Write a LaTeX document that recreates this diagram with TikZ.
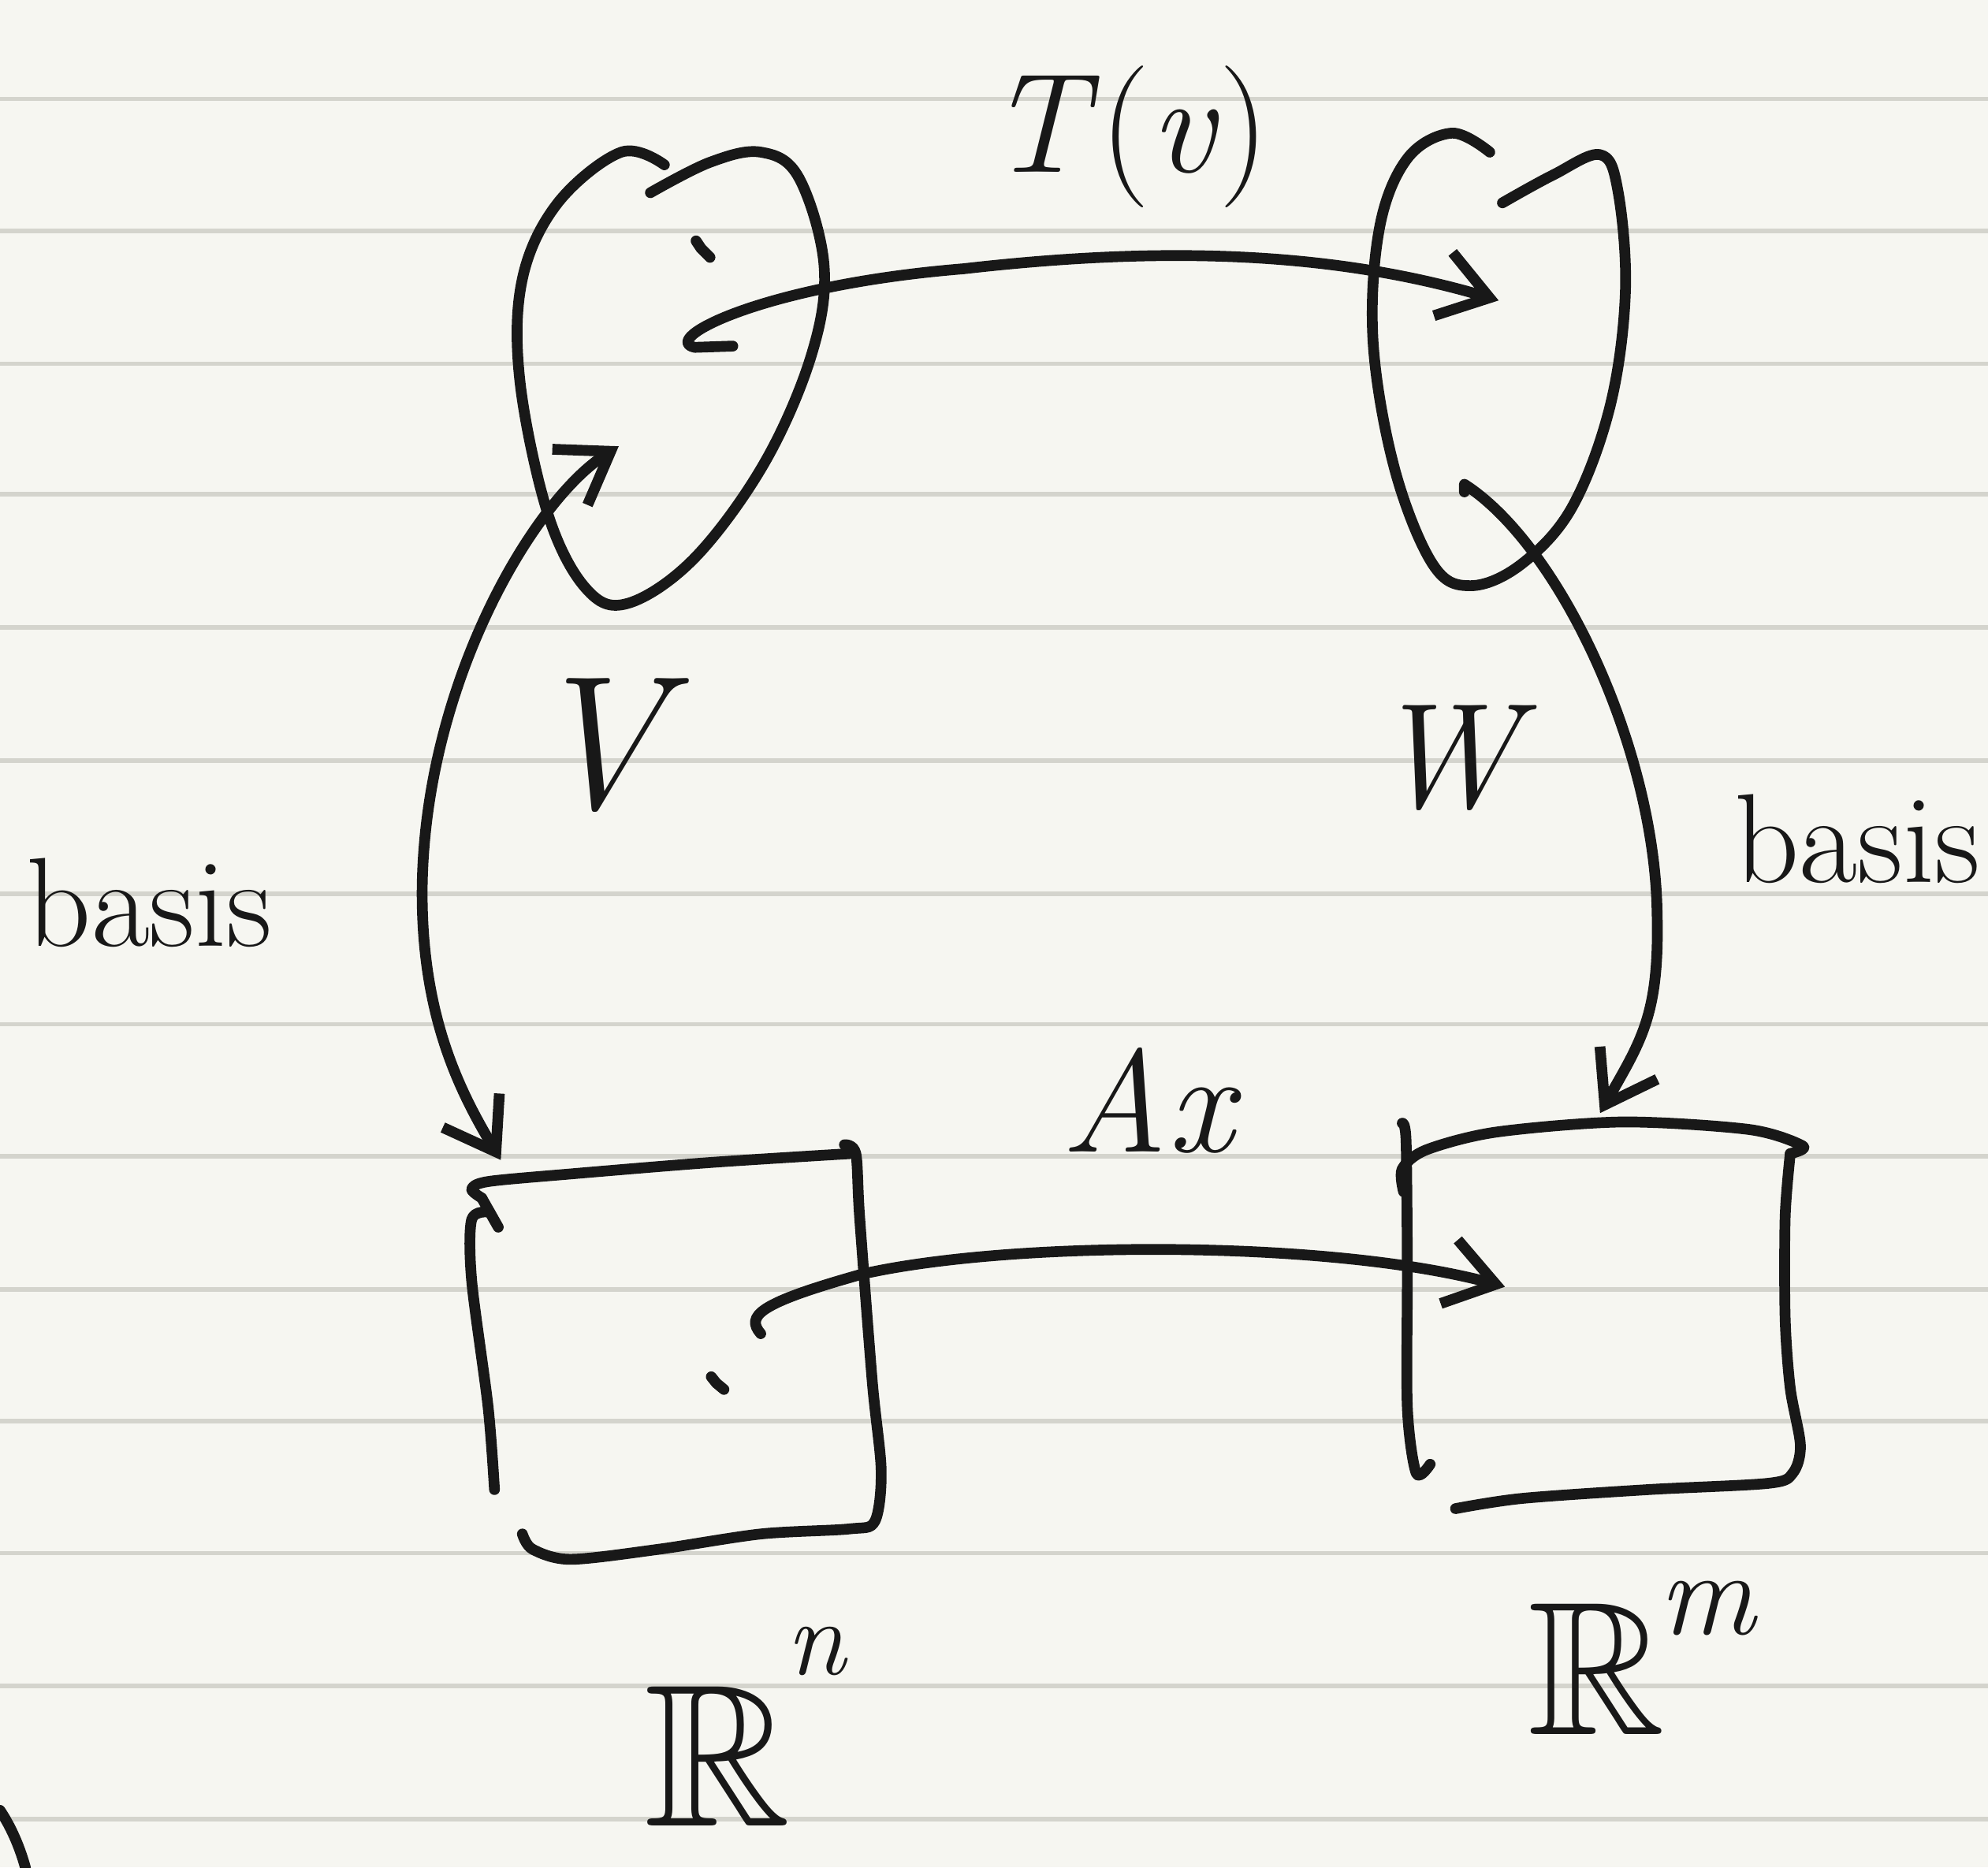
\documentclass[tikz,border=0pt]{standalone}
\usepackage{amssymb}
\usepackage{fontspec}
\usetikzlibrary{arrows.meta}
\definecolor{paper}{HTML}{F6F6F1}
\definecolor{rule}{HTML}{D4D4CD}
\definecolor{ink}{HTML}{181818}
\tikzset{
  ink/.style={draw=ink, line width=8.5pt, line cap=round, line join=round},
  barb/.style={-{Straight Barb[length=38pt,width=52pt,line width=8.5pt]}},
  dbarb/.style={{Straight Barb[length=38pt,width=52pt,line width=8.5pt]}-{Straight Barb[length=38pt,width=52pt,line width=8.5pt]}},
  lbl/.style={text=ink, inner sep=0pt},
}
\begin{document}
\begin{tikzpicture}[x=1pt,y=-1pt]
\fill[paper] (0,0) rectangle (1568,1473);
\useasboundingbox (0,0) rectangle (1568,1473);
\foreach \yy in {78,182,287,390,495,600,705,808,912,1017,1121,1225,1330,1435}
  \draw[rule, line width=3.5pt] (0,\yy) -- (1568,\yy);

% coordinates
\coordinate (vstart) at (578,273);
\coordinate (wtip) at (1182,237);
\coordinate (vtip) at (488,352);
\coordinate (rntip) at (395,915);
\coordinate (wstart) at (1155,388);
\coordinate (rmtip) at (1262,878);
\coordinate (rnstart) at (600,1052);
\coordinate (rmtipA) at (1187,1015);

% blob V
\draw[ink] plot[smooth, tension=0.6] coordinates {(513,152) (560,128) (600,120) (630,140) (650,210) (640,280) (603,365) (548,440) (495,476) (462,464) (432,405) (410,300) (412,220) (440,160) (490,120) (524,130)};
% blob W
\draw[ink] plot[smooth, tension=0.6] coordinates {(1185,160) (1225,138) (1262,122) (1276,150) (1282,230) (1270,320) (1240,400) (1200,445) (1160,462) (1130,445) (1100,370) (1083,270) (1088,180) (1110,125) (1145,105) (1175,120)};

% square R^n
\draw[ink] (380,945) -- (393,968);
\draw[ink] plot[smooth, tension=0.5] coordinates {(380,945) (372,938) (385,932) (450,926) (560,917) (670,910)};
\draw[ink] plot[smooth, tension=0.5] coordinates {(666,903) (675,910) (678,960) (688,1090) (695,1160) (690,1200) (670,1206) (600,1210) (520,1222) (450,1230) (420,1222) (412,1210)};
\draw[ink] plot[smooth, tension=0.5] coordinates {(386,956) (372,962) (372,1010) (385,1110) (390,1175)};

% square R^m
\draw[ink] plot[smooth, tension=0.5] coordinates {(1107,940) (1106,922) (1125,907) (1180,893) (1280,885) (1380,891) (1422,904) (1412,910)};
\draw[ink] plot[smooth, tension=0.5] coordinates {(1412,910) (1408,960) (1408,1040) (1412,1095) (1420,1140) (1414,1162) (1395,1170) (1300,1175) (1200,1182) (1148,1190)};
\draw[ink] plot[smooth, tension=0.5] coordinates {(1106,886) (1109,900) (1110,1000) (1110,1110) (1117,1162) (1128,1155)};

% dots
\draw[ink] (549,190) -- (553,196) -- (560,203);
\draw[ink] (561,1086) -- (565,1091) -- (571,1096);

% bottom-left corner curve
\draw[ink] (0,1428) .. controls (8,1440) and (15,1455) .. (20,1473);

% arrows
\draw[ink, barb] (vstart) -- (548,274) .. controls (520,268) and (600,225) .. (760,212) .. controls (900,196) and (1040,195) .. (wtip);
\draw[ink, dbarb] (vtip) .. controls (420,395) and (335,540) .. (333,700) .. controls (332,800) and (362,860) .. (rntip);
\draw[ink, barb] (wstart) -- (1155,382) .. controls (1230,430) and (1305,590) .. (1307,720) .. controls (1309,800) and (1295,820) .. (rmtip);
\draw[ink, barb] (rnstart) .. controls (588,1038) and (598,1028) .. (680,1005) .. controls (800,978) and (1050,978) .. (rmtipA);

% labels
\node[lbl, font=\fontsize{112}{112}\selectfont] (tv) at (890,108) {\textit{T}(\textit{v})};
\node[lbl, font=\fontsize{150}{150}\selectfont\itshape] (vlab) at (470,588) {V};
\node[lbl, font=\fontsize{118}{118}\selectfont\itshape] (wlab) at (1140,598) {W};
\node[lbl, font=\fontsize{100}{100}\selectfont] (basisL) at (118,712) {basis};
\node[lbl, font=\fontsize{100}{100}\selectfont] (basisR) at (1465,662) {basis};
\node[lbl, font=\fontsize{115}{115}\selectfont\itshape] (ax) at (905,868) {Ax};
\node[lbl, font=\fontsize{160}{160}\selectfont, anchor=base west] (rn) at (508,1440) {$\mathbb{R}$};
\node[lbl, font=\fontsize{85}{85}\selectfont\itshape, anchor=south west] (rnsup) at (620,1322) {n};
\node[lbl, font=\fontsize{150}{150}\selectfont, anchor=base west] (rm) at (1205,1368) {$\mathbb{R}$};
\node[lbl, font=\fontsize{95}{95}\selectfont\itshape, anchor=south west] (rmsup) at (1308,1290) {m};
\end{tikzpicture}
\end{document}
